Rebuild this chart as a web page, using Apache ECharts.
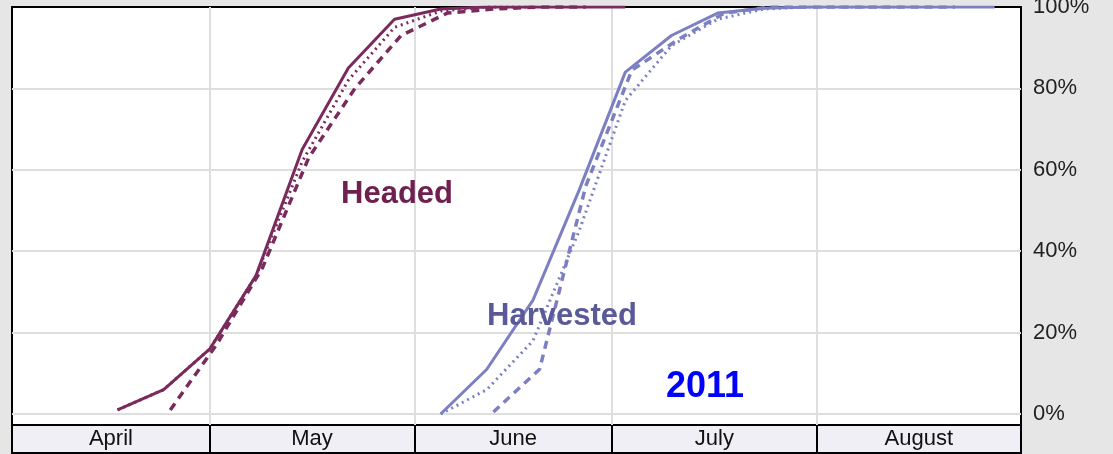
<!DOCTYPE html>
<html>
<head>
<meta charset="utf-8">
<script src="https://cdn.jsdelivr.net/npm/echarts@6/dist/echarts.min.js"></script>
<style>
  html, body { margin: 0; padding: 0; background: #e6e6e6; }
  #chart { width: 1113px; height: 454px; }
</style>
</head>
<body>
<div id="chart"></div>
<script>
// month bands (days counted from April 1)
var months = ['April', 'May', 'June', 'July', 'August'];
var monthStarts = [0, 30, 61, 91, 122, 153];
var yLabels = [0, 20, 40, 60, 80, 100];
var yGrid = [0, 20, 40, 60, 80];

// Headed
var headedDates = ['2011-04-17', '2011-04-24', '2011-05-01', '2011-05-08', '2011-05-15', '2011-05-22',
                   '2011-05-29', '2011-06-05', '2011-06-12', '2011-06-19', '2011-06-26', '2011-07-03'];
var headedSolid = [1, 6, 16, 34, 65, 85, 97, 99.5, 100, 100, 100, 100];
var headedDottedDates = ['2011-04-17', '2011-04-24', '2011-05-01', '2011-05-08', '2011-05-15', '2011-05-22',
                         '2011-05-29', '2011-06-05', '2011-06-12', '2011-06-19'];
var headedDotted = [1, 6, 16, 34, 62, 82, 95, 99, 100, 100];
var headedDashedDates = ['2011-04-25', '2011-05-02', '2011-05-09', '2011-05-16', '2011-05-23', '2011-05-30',
                         '2011-06-06', '2011-06-13', '2011-06-20', '2011-06-27'];
var headedDashed = [1, 17, 36, 63, 80, 93, 98.5, 99.5, 100, 100];

// Harvested
var harvDates = ['2011-06-05', '2011-06-12', '2011-06-19', '2011-06-26', '2011-07-03', '2011-07-10', '2011-07-17',
                 '2011-07-24', '2011-07-31', '2011-08-07', '2011-08-14', '2011-08-21', '2011-08-28'];
var harvSolid = [0, 11, 28, 55, 84, 93, 98.5, 99.7, 100, 100, 100, 100, 100];
var harvDottedDates = ['2011-06-05', '2011-06-12', '2011-06-19', '2011-06-26', '2011-07-03', '2011-07-10',
                       '2011-07-17', '2011-07-24', '2011-07-31', '2011-08-07', '2011-08-14'];
var harvDotted = [0, 6, 18, 45, 77, 90.5, 97, 99.5, 100, 100, 100];
var harvDashedDates = ['2011-06-13', '2011-06-20', '2011-06-27', '2011-07-04', '2011-07-11', '2011-07-18',
                       '2011-07-25', '2011-08-01', '2011-08-08', '2011-08-15', '2011-08-22'];
var harvDashed = [0.5, 11, 56, 84.5, 92, 98.5, 100, 100, 100, 100, 100];

var maroon = '#7a2a5c';
var slate = '#7c80c2';
var font = '"Liberation Sans", Arial, sans-serif';

function dayOf(s) {
  return (Date.parse(s) - Date.parse('2011-04-01')) / 86400000;
}
function pairs(dates, vals) {
  return dates.map(function (d, i) { return [dayOf(d), vals[i]]; });
}
function monthName(v) {
  for (var i = 0; i < months.length; i++) {
    if (v >= monthStarts[i] && v < monthStarts[i + 1]) return months[i];
  }
  return '';
}
var boundaries = monthStarts.slice(1, -1);
var mids = months.map(function (m, i) { return (monthStarts[i] + monthStarts[i + 1]) / 2; });

function line(name, dates, vals, color, type, width) {
  return {
    name: name,
    type: 'line',
    data: pairs(dates, vals),
    symbol: 'none',
    lineStyle: { color: color, type: type, width: width },
    itemStyle: { color: color }
  };
}

var myChart = echarts.init(document.getElementById('chart'));
var option = {
  backgroundColor: '#e6e6e6',
  animation: false,
  grid: [
    { left: 12, top: 7, right: 92, height: 418, show: true, backgroundColor: '#fff',
      borderColor: '#000', borderWidth: 2, outerBoundsMode: 'none', containLabel: false },
    { left: 12, top: 425, right: 92, height: 28, show: true, backgroundColor: '#efeff5',
      borderColor: '#000', borderWidth: 2, outerBoundsMode: 'none', containLabel: false }
  ],
  xAxis: [
    {
      type: 'value', gridIndex: 0, min: 0, max: 153,
      axisLine: { show: false },
      axisTick: { show: false, customValues: boundaries },
      axisLabel: { show: false },
      splitLine: { show: true, lineStyle: { color: '#dedede', width: 2 } }
    },
    {
      type: 'value', gridIndex: 1, min: 0, max: 153, position: 'top',
      axisLine: { show: false },
      axisTick: { show: false, customValues: boundaries },
      axisLabel: {
        customValues: mids, inside: true, margin: 3,
        color: '#111', fontSize: 22, fontFamily: font,
        formatter: function (v) { return monthName(v); }
      },
      splitLine: { show: true, lineStyle: { color: '#000', width: 2 } }
    }
  ],
  yAxis: [
    {
      type: 'value', gridIndex: 0, position: 'right', min: -2.7, max: 100,
      axisLine: { show: false },
      axisTick: { show: false, customValues: yGrid },
      axisLabel: {
        customValues: yLabels, margin: 12, color: '#222', fontSize: 22, fontFamily: font,
        formatter: '{value}%'
      },
      splitLine: { show: true, lineStyle: { color: '#dedede', width: 2 } }
    },
    { type: 'value', gridIndex: 1, show: false }
  ],
  graphic: [
    { type: 'text', x: 397, y: 194, z: 100,
      style: { text: 'Headed', fill: '#6e2150', font: 'bold 31px ' + font, align: 'center', verticalAlign: 'middle' } },
    { type: 'text', x: 562, y: 316, z: 100,
      style: { text: 'Harvested', fill: '#5a5a98', font: 'bold 31px ' + font, align: 'center', verticalAlign: 'middle' } },
    { type: 'text', x: 705, y: 387, z: 100,
      style: { text: '2011', fill: '#0000ff', font: 'bold 36px ' + font, align: 'center', verticalAlign: 'middle' } }
  ],
  series: [
    line('Headed dashed', headedDashedDates, headedDashed, maroon, [8, 6], 3.5),
    line('Headed dotted', headedDottedDates, headedDotted, maroon, [2, 4], 3),
    line('Headed', headedDates, headedSolid, maroon, 'solid', 3),
    line('Harvested dashed', harvDashedDates, harvDashed, slate, [8, 6], 3.5),
    line('Harvested dotted', harvDottedDates, harvDotted, slate, [2, 4], 3),
    line('Harvested', harvDates, harvSolid, slate, 'solid', 3)
  ]
};
myChart.setOption(option);
</script>
</body>
</html>
